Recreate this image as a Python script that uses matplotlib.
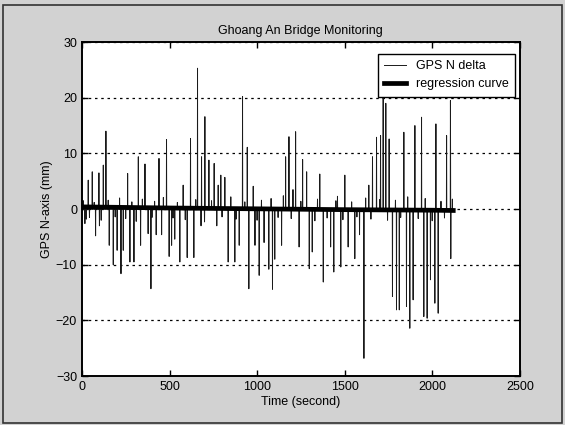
import numpy as np
import matplotlib
matplotlib.use('Agg')
import matplotlib.pyplot as plt
from matplotlib.patches import Rectangle

plt.rcParams['font.family'] = ['Liberation Sans', 'DejaVu Sans']

# spikes (time in s, value in mm)
up_t = [36, 59, 97, 122, 137, 261, 322, 360, 440, 483, 578, 620, 660, 683, 702, 725,
        755, 778, 793, 816, 917, 944, 978, 1163, 1182, 1205, 1220, 1260, 1283, 1358,
        1459, 1501, 1638, 1659, 1682, 1705, 1720, 1735, 1754, 1838, 1901, 1939, 2021,
        2082, 2104]
up_v = [5.2, 6.7, 6.5, 7.9, 14.0, 6.4, 9.4, 8.1, 9.1, 12.5, 4.3, 12.7, 25.3, 9.4, 16.6, 8.8,
        8.2, 4.3, 6.1, 5.7, 20.2, 11.1, 4.1, 9.4, 13.0, 3.5, 13.9, 8.9, 6.7, 6.3,
        2.3, 6.1, 4.3, 9.4, 12.9, 13.2, 20.5, 19.0, 12.6, 13.8, 15.0, 16.5, 15.3,
        13.2, 19.5]
down_t = [17, 43, 78, 100, 156, 179, 201, 223, 236, 274, 297, 335, 378, 394, 424, 455,
          498, 512, 530, 559, 601, 639, 680, 770, 835, 873, 898, 953, 988, 1012, 1040,
          1067, 1088, 1101, 1140, 1240, 1298, 1315, 1378, 1420, 1438, 1478, 1520, 1558,
          1585, 1610, 1773, 1796, 1812, 1853, 1872, 1891, 1952, 1971, 1990, 2015, 2034,
          2106]
down_v = [-2.6, -1.5, -4.8, -3.0, -6.5, -10.0, -7.4, -11.6, -7.4, -9.5, -9.5, -6.5, -4.4, -14.3,
          -4.6, -4.6, -8.5, -6.5, -5.4, -9.5, -8.7, -8.7, -3.0, -3.0, -9.5, -9.5, -6.5, -14.3,
          -6.5, -11.9, -6.0, -10.8, -14.4, -9.0, -6.5, -6.8, -10.7, -7.7, -13.1, -6.8, -11.3,
          -10.4, -6.8, -8.9, -4.6, -26.8, -15.7, -18.1, -18.1, -17.5, -21.4, -16.3, -19.3,
          -19.6, -12.7, -16.9, -18.7, -8.9]
# small wiggles along the baseline
small_t = [8, 25, 70, 110, 150, 190, 215, 250, 285, 310, 345, 400, 415, 465, 520, 545,
           590, 650, 700, 740, 800, 850, 880, 930, 1000, 1025, 1080, 1120, 1150, 1195,
           1250, 1330, 1345, 1400, 1450, 1490, 1540, 1570, 1620, 1650, 1700, 1745, 1790,
           1820, 1860, 1920, 1960, 2000, 2050, 2070, 2115]
small_v = [1.5, -1.8, 1.2, -2.0, 1.6, -1.4, 2.0, -1.7, 1.3, -2.2, 1.8, -1.5, 1.4, 2.1, -1.6, 1.2,
           -1.9, 1.7, -2.3, 1.5, -1.4, 2.2, -1.8, 1.3, -2.0, 1.6, 1.9, -1.5, 2.4, -1.7,
           1.4, -2.1, 1.8, -1.6, 1.5, -1.9, 1.3, -1.4, 2.0, -1.8, 1.7, -2.0, 1.6,
           -1.5, 2.2, -1.7, 1.9, -2.1, 1.4, -1.6, 1.8]

reg_t = [0, 500, 1000, 1500, 2000, 2120]
reg_v = [0.4, 0.2, 0.05, -0.1, -0.2, -0.25]

t = np.arange(0, 2121)
gps = np.zeros(len(t))
gps[small_t] = small_v
gps[up_t] = up_v
gps[down_t] = down_v

fig = plt.figure(figsize=(5.65, 4.25), dpi=100, facecolor='#d2d2d2')
ax = fig.add_axes([0.145, 0.115, 0.775, 0.786])

ax.plot(t, gps, color='#1a1a1a', lw=0.7, label='GPS N delta')
ax.plot(reg_t, reg_v, color='black', lw=3.4, label='regression curve')

ax.set_xlim(0, 2500)
ax.set_ylim(-30, 30)
ax.set_xticks([0, 500, 1000, 1500, 2000, 2500])
ax.set_yticks([-30, -20, -10, 0, 10, 20, 30])
ax.tick_params(direction='in', top=True, right=True, labelsize=9, length=4, width=1)
ax.yaxis.grid(True, linestyle=(0, (2, 3)), color='black', lw=0.9)
for s in ax.spines.values():
    s.set_linewidth(1.4)

ax.set_title('Ghoang An Bridge Monitoring', fontsize=9, pad=6)
ax.set_xlabel('Time (second)', fontsize=9, labelpad=2)
ax.set_ylabel('GPS N-axis (mm)', fontsize=9, labelpad=2)

leg = ax.legend(loc='upper right', fontsize=9, fancybox=False, framealpha=1,
                edgecolor='black', bbox_to_anchor=(0.99, 0.965), borderaxespad=0,
                handlelength=1.8, borderpad=0.5)
leg.get_frame().set_linewidth(1.0)

# scanned page frame
fig.patches.append(Rectangle((0.006, 0.004), 0.988, 0.984, transform=fig.transFigure,
                             fill=False, edgecolor='#333333', lw=1.2))

fig.savefig('out.png', dpi=100, facecolor=fig.get_facecolor())
